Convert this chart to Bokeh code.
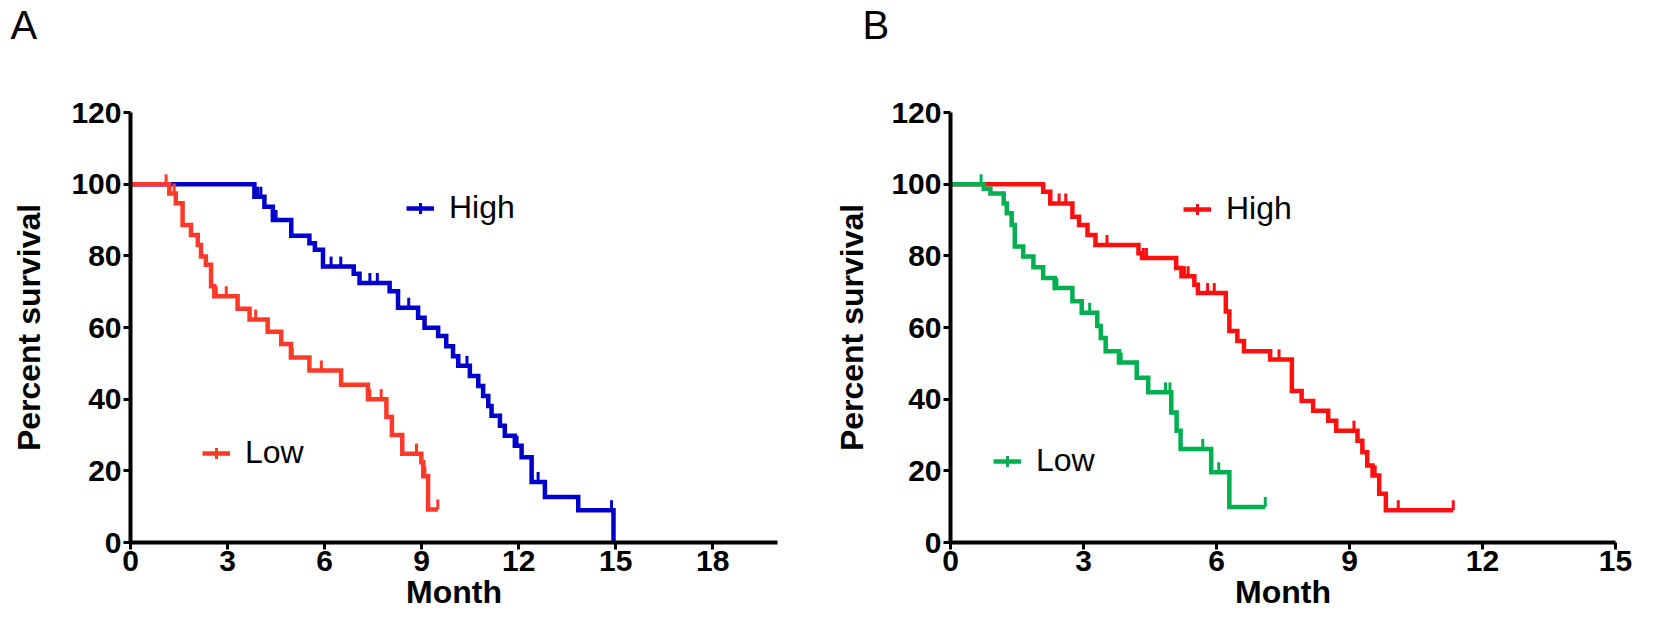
import numpy as np
from bokeh.plotting import figure
from bokeh.layouts import row
from bokeh.models import Range1d, FixedTicker, Legend, LegendItem, Title
from bokeh.embed import file_html
from bokeh.resources import INLINE

# ---------------- data ----------------
# Panel A
a_high_t = [0, 3.83, 4.14, 4.40, 4.97, 5.53, 5.70, 5.95, 6.90, 7.08, 8.01, 8.27, 8.89, 9.09,
            9.51, 9.76, 9.97, 10.13, 10.49, 10.75, 10.90, 11.06, 11.16, 11.42, 11.57, 11.88,
            12.09, 12.40, 12.81, 13.84, 14.93]
a_high_s = [100, 96.5, 93.7, 90.0, 85.6, 83.5, 81.7, 77.0, 75.0, 72.4, 70.1, 65.5, 62.7, 59.9,
            57.6, 54.8, 52.0, 49.3, 46.5, 43.7, 40.9, 38.1, 35.4, 32.6, 29.8, 27.0,
            23.8, 16.9, 12.7, 9.0, 0]
a_high_cens_t = [3.93, 4.03, 4.50, 6.20, 6.50, 7.40, 7.63, 8.60, 10.40, 11.95, 12.60, 14.87]
a_high_cens_s = [96.5, 96.5, 90.0, 77.0, 77.0, 72.4, 72.4, 65.5, 49.3, 27.0, 16.9, 9.0]

a_low_t = [0, 1.20, 1.40, 1.61, 1.87, 2.08, 2.18, 2.33, 2.49, 2.59, 3.31, 3.68, 4.24, 4.66,
           4.96, 5.53, 6.51, 7.34, 7.91, 8.08, 8.40, 8.99, 9.05, 9.20, 9.50]
a_low_s = [100, 97.4, 94.7, 88.6, 85.8, 83.0, 79.8, 77.5, 71.5, 68.7, 65.2, 62.2, 58.8, 55.4,
           51.6, 48.0, 44.0, 40.0, 35.0, 30.0, 24.8, 22.4, 18.5, 9.2, 9.2]
a_low_cens_t = [1.10, 1.35, 2.65, 2.96, 3.87, 5.00, 5.90, 7.40, 7.75, 8.84, 9.10, 9.50]
a_low_cens_s = [100, 97.4, 68.7, 68.7, 62.2, 51.6, 48.0, 40.0, 40.0, 24.8, 18.5, 9.2]

# Panel B
b_high_t = [0, 2.09, 2.25, 2.75, 2.90, 3.09, 3.27, 4.24, 4.32, 5.09, 5.21, 5.50, 5.58, 6.21,
            6.29, 6.47, 6.62, 7.21, 7.70, 7.92, 8.18, 8.52, 8.70, 9.18, 9.29, 9.40, 9.52,
            9.67, 9.82, 11.34]
b_high_s = [100, 97.9, 94.6, 90.9, 88.6, 85.8, 83.0, 80.7, 79.4, 76.6, 74.3, 71.9, 69.6, 64.5,
            59.0, 56.2, 53.4, 51.1, 42.3, 39.5, 36.8, 34.0, 31.2, 28.4, 25.2, 21.5, 18.7,
            13.6, 9.0, 9.0]
b_high_cens_t = [2.45, 2.60, 3.53, 4.35, 4.42, 5.28, 5.36, 5.80, 5.95, 7.41, 9.10, 9.58, 10.10, 11.34]
b_high_cens_s = [94.6, 94.6, 83.0, 79.4, 79.4, 74.3, 74.3, 69.6, 69.6, 51.1, 31.2, 18.7, 9.0, 9.0]

b_low_t = [0, 0.75, 0.90, 1.20, 1.27, 1.38, 1.45, 1.64, 1.87, 2.09, 2.35, 2.75, 2.96, 3.31,
           3.39, 3.50, 3.80, 4.20, 4.46, 4.98, 5.10, 5.19, 5.88, 6.29, 7.10]
b_low_s = [100, 98.7, 97.4, 94.6, 91.9, 88.6, 82.6, 79.8, 76.8, 73.8, 71.0, 67.3, 64.1, 60.4,
           57.1, 53.4, 50.2, 46.0, 41.9, 36.3, 31.2, 26.1, 19.6, 9.9, 9.9]
b_low_cens_t = [0.69, 2.40, 3.14, 3.85, 4.85, 4.95, 5.69, 6.05, 7.10]
b_low_cens_s = [100, 71.0, 64.1, 50.2, 41.9, 41.9, 26.1, 19.6, 9.9]

y_ticks = [0, 20, 40, 60, 80, 100, 120]
a_x_ticks = [0, 3, 6, 9, 12, 15, 18]
b_x_ticks = [0, 3, 6, 9, 12, 15]
series_labels = ["High", "Low"]
panel_letters = ["A", "B"]

# ---------------- styling ----------------
FONT = "Liberation Sans"
BLUE = "#0000CC"
RED_A = "#FF3A2A"
RED_B = "#FF1010"
GREEN = "#00B050"
LW = 4.5
TICK_UP = 1.4  # censor tick offset (data units) so tick points upward


def make_panel(width, xmax, xticks, bl, br, letter, letter_offset, ylabel_standoff):
    p = figure(width=width, height=627, x_range=Range1d(0, xmax), y_range=Range1d(0, 120),
               output_backend="svg", toolbar_location=None,
               min_border_left=bl, min_border_right=br, min_border_top=110, min_border_bottom=85)
    p.outline_line_color = None
    p.xgrid.visible = False
    p.ygrid.visible = False
    p.background_fill_color = "white"
    p.border_fill_color = "white"
    p.xaxis.ticker = FixedTicker(ticks=xticks)
    p.yaxis.ticker = FixedTicker(ticks=y_ticks)
    p.xaxis.axis_label = "Month"
    p.yaxis.axis_label = "Percent survival"
    for ax in (p.xaxis[0], p.yaxis[0]):
        ax.axis_line_width = 4
        ax.axis_line_color = "black"
        ax.major_tick_line_width = 3
        ax.major_tick_line_color = "black"
        ax.major_tick_in = 0
        ax.major_tick_out = 7
        ax.minor_tick_line_color = None
        ax.major_label_text_font = FONT
        ax.major_label_text_font_style = "bold"
        ax.major_label_text_font_size = "30px"
        ax.major_label_text_color = "black"
        ax.axis_label_text_font = FONT
        ax.axis_label_text_font_style = "bold"
        ax.axis_label_text_font_size = "32px"
        ax.axis_label_text_color = "black"
    p.xaxis.major_label_standoff = 1
    p.xaxis.axis_label_standoff = 0
    p.yaxis.major_label_standoff = 2
    p.yaxis.axis_label_standoff = ylabel_standoff
    # spacer panel between the frame and the panel letter
    p.add_layout(Title(text=" ", text_font_size="1px", standoff=63), "above")
    p.title.text = letter
    p.title.align = "left"
    p.title.vertical_align = "bottom"
    p.title.offset = letter_offset
    p.title.standoff = 0
    p.title.text_font = FONT
    p.title.text_font_size = "40px"
    p.title.text_font_style = "normal"
    p.title.text_color = "black"
    return p


def add_curve(p, t, s, ct, cs, color):
    line = p.step(t, s, mode="after", line_color=color, line_width=LW, line_join="miter")
    cy = [v + TICK_UP for v in cs]
    p.scatter(ct, cy, marker="dash", angle=np.pi / 2, size=10, line_color=color,
              line_width=3, fill_color=None)
    # hidden renderer used only to draw the censor tick on the legend key
    key = p.scatter(ct, cs, marker="cross", size=10, line_color=color, line_width=3,
                    visible=False)
    return [line, key]


def add_legend(p, label, renderers, loc):
    lg = Legend(items=[LegendItem(label=label, renderers=renderers)], location=loc,
                label_text_font=FONT, label_text_font_size="32px", label_text_color="black",
                glyph_width=28, glyph_height=36, label_height=36, label_standoff=15,
                padding=0, margin=0, spacing=0, border_line_alpha=0, background_fill_alpha=0,
                inactive_fill_alpha=0)
    p.add_layout(lg)


pA = make_panel(812, 20, a_x_ticks, 130, 35, panel_letters[0], -120, 21)
rA_hi = add_curve(pA, a_high_t, a_high_s, a_high_cens_t, a_high_cens_s, BLUE)
rA_lo = add_curve(pA, a_low_t, a_low_s, a_low_cens_t, a_low_cens_s, RED_A)
add_legend(pA, series_labels[0], rA_hi, (276, 316))
add_legend(pA, series_labels[1], rA_lo, (72, 71))

pB = make_panel(826, 15, b_x_ticks, 138, 23, panel_letters[1], -88, 18)
rB_hi = add_curve(pB, b_high_t, b_high_s, b_high_cens_t, b_high_cens_s, RED_B)
rB_lo = add_curve(pB, b_low_t, b_low_s, b_low_cens_t, b_low_cens_s, GREEN)
add_legend(pB, series_labels[0], rB_hi, (233, 315))
add_legend(pB, series_labels[1], rB_lo, (43, 63))

layout = row(pA, pB)
open("out.html", "w").write(file_html(layout, INLINE))
